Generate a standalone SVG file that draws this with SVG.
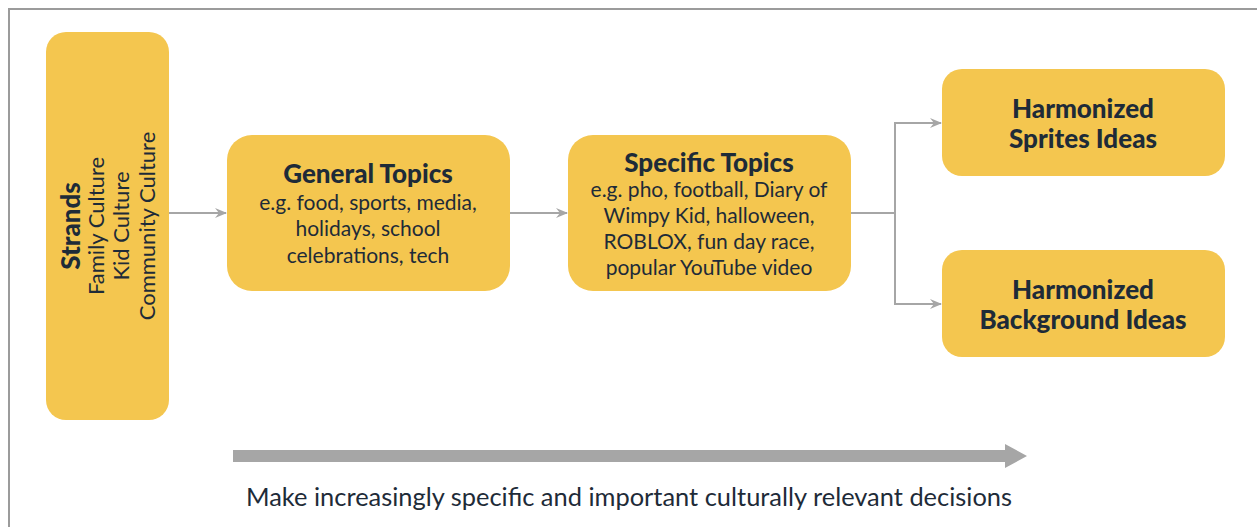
<svg xmlns="http://www.w3.org/2000/svg" width="1257" height="527" viewBox="0 0 1257 527">
  <style>
    .box { fill: #F4C64F; }
    .t { font-family: Lato, "Open Sans", sans-serif; fill: #1E2B38; text-anchor: middle; }
    .h { font-weight: 900; font-size: 26px; }
    .b { font-size: 21px; }
    .s { font-size: 22px; }
    .link { fill: none; stroke: #A6A6A6; stroke-width: 2; }
  </style>
  <defs>
    <marker id="arr" viewBox="0 0 12 10" refX="11" refY="5" markerWidth="12" markerHeight="10" markerUnits="userSpaceOnUse" orient="auto">
      <path d="M0,0 L12,5 L0,10 L4,5 Z" fill="#A6A6A6"/>
    </marker>
  </defs>
  <rect x="0" y="0" width="1257" height="527" fill="#ffffff"/>
  <!-- outer frame -->
  <path d="M9,527 L9,9 L1257,9" fill="none" stroke="#9B9B9B" stroke-width="2"/>

  <g id="strands">
    <rect class="box" x="46" y="32" width="123" height="388" rx="20"/>
    <g transform="translate(0,226) rotate(-90)">
      <text class="t h" x="0" y="80">Strands</text>
      <text class="t s" x="0" y="104">Family Culture</text>
      <text class="t s" x="0" y="129">Kid Culture</text>
      <text class="t s" x="0" y="155">Community Culture</text>
    </g>
  </g>

  <g id="general">
    <rect class="box" x="227" y="135" width="283" height="156" rx="25"/>
    <text class="t h" x="368" y="183">General Topics</text>
    <text class="t b" x="368" y="210">e.g. food, sports, media,</text>
    <text class="t b" x="368" y="236">holidays, school</text>
    <text class="t b" x="368" y="263">celebrations, tech</text>
  </g>

  <g id="specific">
    <rect class="box" x="568" y="135" width="283" height="156" rx="25"/>
    <text class="t h" x="709" y="172">Specific Topics</text>
    <text class="t b" x="709" y="197">e.g. pho, football, Diary of</text>
    <text class="t b" x="709" y="223">Wimpy Kid, halloween,</text>
    <text class="t b" x="709" y="249">ROBLOX, fun day race,</text>
    <text class="t b" x="709" y="275">popular YouTube  video</text>
  </g>

  <g id="sprites">
    <rect class="box" x="942" y="69" width="283" height="107" rx="20"/>
    <text class="t h" x="1083" y="118">Harmonized</text>
    <text class="t h" x="1083" y="148">Sprites Ideas</text>
  </g>

  <g id="background">
    <rect class="box" x="942" y="250" width="283" height="107" rx="20"/>
    <text class="t h" x="1083" y="299">Harmonized</text>
    <text class="t h" x="1083" y="329">Background Ideas</text>
  </g>

  <g id="connectors">
    <line class="link" x1="169" y1="213" x2="226" y2="213" marker-end="url(#arr)"/>
    <line class="link" x1="510" y1="213" x2="567" y2="213" marker-end="url(#arr)"/>
    <path class="link" d="M851,213 H895"/>
    <path class="link" d="M941,123 H895 V304 H941"/>
    <line class="link" x1="895" y1="123" x2="941" y2="123" marker-end="url(#arr)"/>
    <line class="link" x1="895" y1="304" x2="941" y2="304" marker-end="url(#arr)"/>
  </g>

  <g id="progress">
    <path d="M233,450 H1005 V444 L1027,456 L1005,468 V462 H233 Z" fill="#A6A6A6"/>
    <text class="t" x="629" y="506" font-size="25" textLength="766" lengthAdjust="spacingAndGlyphs">Make increasingly specific and important culturally relevant decisions</text>
  </g>
</svg>
